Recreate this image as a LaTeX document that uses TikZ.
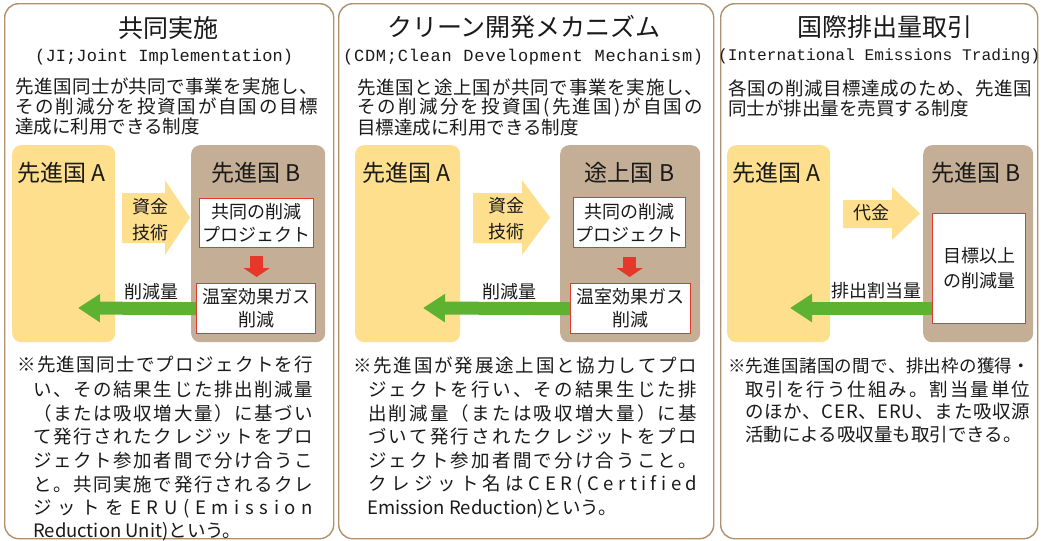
\documentclass[tikz,border=0pt]{standalone}
\usepackage{fontspec}
\setmainfont{Noto Sans CJK JP}
\newfontfamily\mono{Liberation Mono}
\usetikzlibrary{arrows.meta}
\definecolor{brdr}{HTML}{B0906E}
\definecolor{yel}{HTML}{FDDF8E}
\definecolor{tanc}{HTML}{C4AE96}
\definecolor{grn}{HTML}{5DB232}
\definecolor{redc}{HTML}{E2392A}
\definecolor{ink}{HTML}{1A1A1A}
\makeatletter
\newcommand\spr[2]{\hbox to #1{\@tfor\sp@c:=#2\do{\sp@c\hfil}\unskip}}
\makeatother
\newcommand\ftitle{\fontsize{25}{28}\selectfont}
\newcommand\fsub{\mono\fontsize{17}{19}\selectfont}
\newcommand\fbody{\fontsize{18.5}{22}\selectfont}
\newcommand\fbig{\fontsize{23}{26}\selectfont}
\newcommand\fwb{\fontsize{18}{23}\selectfont}
\tikzset{
  panel/.style={draw=brdr, line width=1.4pt, rounded corners=14pt, inner sep=0, anchor=north west},
  ybox/.style={fill=yel, rounded corners=9pt, inner sep=0, anchor=north west, minimum height=197pt},
  tbox/.style={fill=tanc, rounded corners=9pt, inner sep=0, anchor=north west, minimum height=197pt},
  wbox/.style={draw=redc, fill=white, line width=1.3pt, inner sep=0, anchor=north west, align=center, font=\fwb, text=ink},
  txt/.style={inner sep=0, anchor=west, text=ink},
  ctxt/.style={inner sep=0, text=ink},
  garrow/.style={draw=grn, line width=13pt, -{Triangle[length=22pt,width=27pt]}},
  rarrow/.style={draw=redc, line width=13pt, -{Triangle[length=9pt,width=26pt]}},
  yarrow/.style={fill=yel}
}
\begin{document}
\begin{tikzpicture}[x=1pt,y=-1pt]
\fill[white] (0,0) rectangle (1042,541);
\useasboundingbox (0,0) rectangle (1042,541);
% panels
\node[panel, minimum width=329pt, minimum height=535pt] (P1) at (4,3) {};
\node[panel, minimum width=375pt, minimum height=535pt] (P2) at (338,3) {};
\node[panel, minimum width=317pt, minimum height=535pt] (P3) at (720,3) {};
% country boxes
\node[ybox, minimum width=103pt] (p1a) at (12,145) {};
\node[tbox, minimum width=134pt] (p1b) at (191,145) {};
\node[ybox, minimum width=105pt] (p2a) at (355,145) {};
\node[tbox, minimum width=140pt] (p2b) at (560,145) {};
\node[ybox, minimum width=103pt] (p3a) at (727,145) {};
\node[tbox, minimum width=110pt] (p3b) at (923,145) {};
% yellow block arrows
\fill[yarrow] (122,193) -- (165,193) -- (165,180) -- (190,217.5) -- (165,255) -- (165,243) -- (122,243) -- cycle;
\fill[yarrow] (473,193) -- (522,193) -- (522,180) -- (550,217.5) -- (522,255) -- (522,243) -- (473,243) -- cycle;
\fill[yarrow] (843,200) -- (892,200) -- (892,187) -- (920,213.5) -- (892,240) -- (892,228) -- (843,228) -- cycle;
% white boxes
\node[wbox, minimum width=114pt, minimum height=49pt] (p1w1) at (199,198) {共同の削減\\プロジェクト};
\node[wbox, minimum width=119pt, minimum height=50pt] (p1w2) at (196,283) {温室効果ガス\\削減};
\node[wbox, minimum width=112pt, minimum height=50pt] (p2w1) at (573,197) {共同の削減\\プロジェクト};
\node[wbox, minimum width=120pt, minimum height=50pt] (p2w2) at (570,283) {温室効果ガス\\削減};
\node[wbox, minimum width=93pt, minimum height=110pt, font=\fontsize{18}{25}\selectfont] (p3w) at (932,213) {目標以上\\の削減量};
% red arrows
\coordinate (r1a) at ([yshift=-8pt]p1w1.south);
\coordinate (r1b) at ([yshift=6pt]p1w2.north);
\draw[rarrow] (r1a) -- (r1a |- r1b);
\coordinate (r2a) at ([yshift=-9pt]p2w1.south);
\coordinate (r2b) at ([yshift=6pt]p2w2.north);
\draw[rarrow] (r2a) -- (r2a |- r2b);
% green arrows
\coordinate (g1) at (78,308);
\coordinate (g2) at (423,308);
\coordinate (g3) at (790,308);
\draw[garrow] (p1w2.west) -- (g1);
\draw[garrow] (p2w2.west) -- (g2);
\draw[garrow] (p3w.west |- g3) -- (g3);
% titles
\node[ctxt, font=\ftitle] (t1) at (168,28) {共同実施};
\node[ctxt, font=\ftitle] (t2) at (524,27) {クリーン開発メカニズム};
\node[ctxt, font=\ftitle] (t3) at (885,27) {国際排出量取引};
\node[txt, font=\fsub] (s1) at (35,57) {\spr{258pt}{(JI;Joint~Implementation)}};
\node[txt, font=\fsub] (s2) at (343,57) {\spr{360pt}{(CDM;Clean~Development~Mechanism)}};
\node[txt, font=\mono\fontsize{16.2}{19}\selectfont] (s3) at (718,56) {\spr{322pt}{(International~Emissions~Trading)}};
% descriptions
\node[txt, font=\fbody] (d11) at (15,86) {\spr{303pt}{先進国同士が共同で事業を実施し、}};
\node[txt, font=\fbody] (d12) at (15,106) {\spr{303pt}{その削減分を投資国が自国の目標}};
\node[txt, font=\fbody] (d13) at (15,127) {達成に利用できる制度};
\node[txt, font=\fbody] (d21) at (357,87) {\spr{346pt}{先進国と途上国が共同で事業を実施し、}};
\node[txt, font=\fbody] (d22) at (357,107) {\spr{346pt}{その削減分を投資国(先進国)が自国の}};
\node[txt, font=\fbody] (d23) at (357,128) {目標達成に利用できる制度};
\node[txt, font=\fbody] (d31) at (728,88) {\spr{304pt}{各国の削減目標達成のため、先進国}};
\node[txt, font=\fbody] (d32) at (728,108) {同士が排出量を売買する制度};
% box labels
\node[txt, font=\fbig] (la1) at (17,173) {先進国 A};
\node[ctxt, font=\fbig] (lb1) at (256,173) {先進国 B};
\node[txt, font=\fbig] (la2) at (362,173) {先進国 A};
\node[ctxt, font=\fbig] (lb2) at (629.5,173) {途上国 B};
\node[txt, font=\fbig] (la3) at (732,173) {先進国 A};
\node[ctxt, font=\fbig] (lb3) at (976,173) {先進国 B};
% arrow labels
\node[ctxt, font=\fwb] (m11) at (150,207) {資金};
\node[ctxt, font=\fwb] (m12) at (150,233) {技術};
\node[ctxt, font=\fwb] (m21) at (506,206) {資金};
\node[ctxt, font=\fwb] (m22) at (506,232) {技術};
\node[ctxt, font=\fwb] (m31) at (871,213) {代金};
\node[ctxt, font=\fwb] (n1) at (151,292) {削減量};
\node[ctxt, font=\fwb] (n2) at (509,292) {削減量};
\node[ctxt, font=\fwb] (n3) at (876,291) {排出割当量};
% notes panel 1
\node[txt, font=\fbody] (e11) at (17,365) {\spr{296pt}{※先進国同士でプロジェクトを行}};
\node[txt, font=\fbody] (e12) at (33,389) {\spr{280pt}{い、その結果生じた排出削減量}};
\node[txt, font=\fbody] (e13) at (33,413) {\spr{280pt}{（または吸収増大量）に基づい}};
\node[txt, font=\fbody] (e14) at (33,437) {\spr{280pt}{て発行されたクレジットをプロ}};
\node[txt, font=\fbody] (e15) at (33,461) {\spr{280pt}{ジェクト参加者間で分け合うこ}};
\node[txt, font=\fbody] (e16) at (33,485) {\spr{280pt}{と。共同実施で発行されるクレ}};
\node[txt, font=\fbody] (e17) at (33,509) {\spr{280pt}{ジットをERU(Emission}};
\node[txt, font=\fbody] (e18) at (33,532) {Reduction Unit)という。};
% notes panel 2
\node[txt, font=\fbody] (e21) at (353,365) {\spr{344pt}{※先進国が発展途上国と協力してプロ}};
\node[txt, font=\fbody] (e22) at (368,389) {\spr{329pt}{ジェクトを行い、その結果生じた排}};
\node[txt, font=\fbody] (e23) at (368,413) {\spr{329pt}{出削減量（または吸収増大量）に基}};
\node[txt, font=\fbody] (e24) at (368,437) {\spr{329pt}{づいて発行されたクレジットをプロ}};
\node[txt, font=\fbody] (e25) at (368,461) {\spr{329pt}{ジェクト参加者間で分け合うこと。}};
\node[txt, font=\fbody] (e26) at (368,485) {\spr{329pt}{クレジット名はCER(Certified}};
\node[txt, font=\fbody] (e27) at (367,509) {Emission Reduction)という。};
% notes panel 3
\node[txt, font=\fontsize{17.5}{22}\selectfont] (e31) at (728,366) {\spr{302pt}{※先進国諸国の間で、排出枠の獲得・}};
\node[txt, font=\fbody] (e32) at (745,389) {\spr{285pt}{取引を行う仕組み。割当量単位}};
\node[txt, font=\fbody] (e33) at (745,412) {\spr{285pt}{のほか、CER、ERU、また吸収源}};
\node[txt, font=\fbody] (e34) at (745,435) {活動による吸収量も取引できる。};
\end{tikzpicture}
\end{document}
